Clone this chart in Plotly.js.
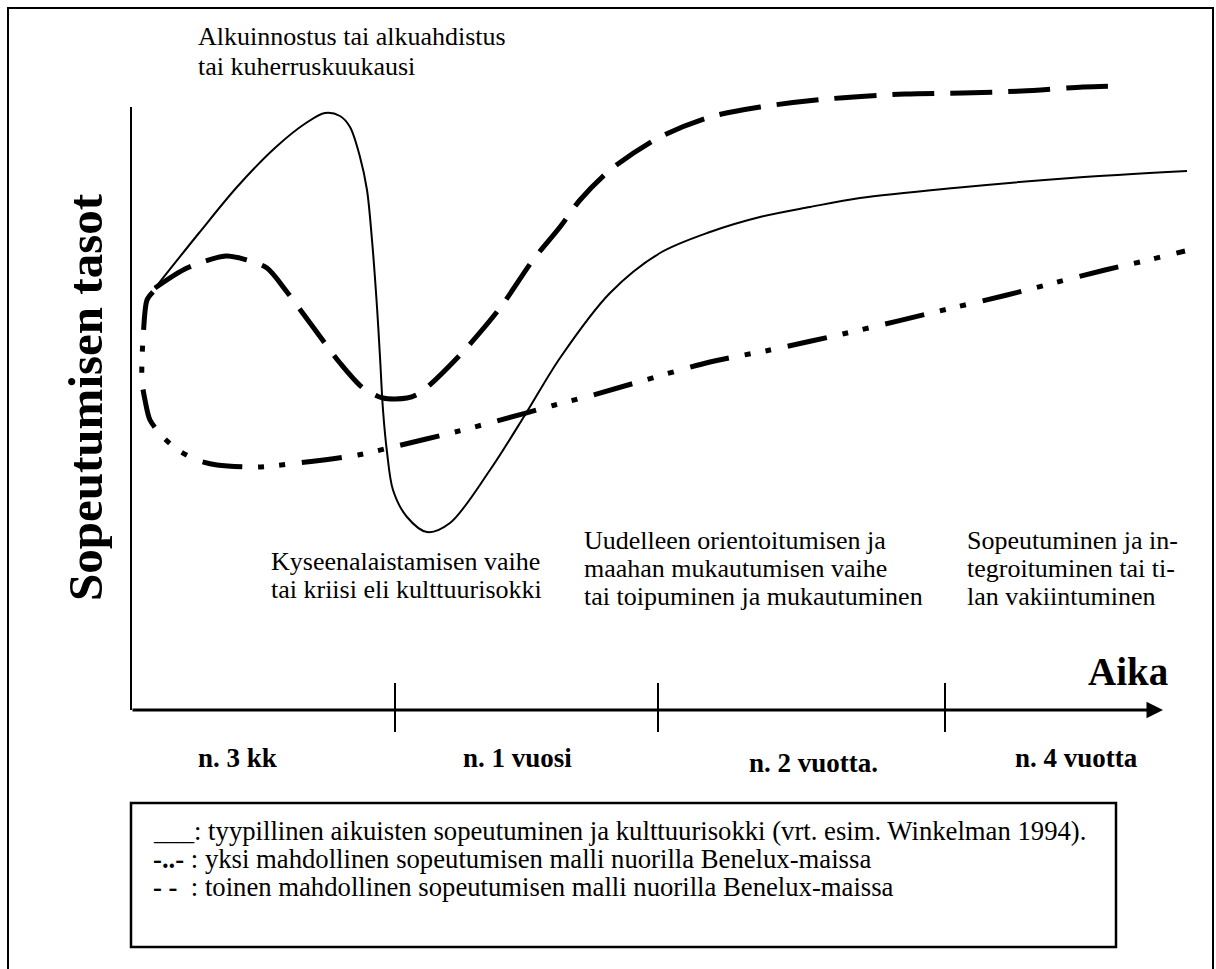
<!DOCTYPE html>
<html>
<head>
<meta charset="utf-8">
<script src="https://cdn.plot.ly/plotly-3.0.1.min.js"></script>
<style>
  html, body { margin: 0; padding: 0; background: #fff; }
  #chart { width: 1216px; height: 969px; }
</style>
</head>
<body>
<div id="chart"></div>
<script>
// ---- data (time units along x, adaptation level along y) ----
const solidX = [2.4, 6.8, 10.6, 14.5, 17.5, 19.4, 20.9, 21.9, 22.9, 23.6, 24.1, 24.6, 24.9, 25.2, 25.6, 26.2, 27.6, 29.6, 31.9, 35.9, 39.4, 42.9, 47.9, 52.9, 57.9, 62.9, 67.9, 72.9, 82.3, 94.0, 105.6];
const solidY = [42.2, 47.7, 52.3, 56.3, 58.7, 59.7, 59.4, 58.3, 55.3, 52.0, 47.0, 40.3, 35.3, 30.0, 25.8, 22.0, 19.3, 17.8, 18.7, 24.0, 29.5, 35.2, 41.7, 45.7, 47.8, 49.3, 50.3, 51.2, 52.2, 53.2, 53.9];

const dashX = [2.4, 5.6, 9.5, 11.6, 13.6, 15.6, 18.2, 20.9, 23.2, 25.2, 27.6, 28.9, 32.9, 36.9, 40.2, 42.9, 44.9, 47.9, 52.9, 57.9, 62.9, 69.6, 77.4, 83.2, 89.1, 95.2, 98.6];
const dashY = [42.2, 44.2, 45.4, 45.0, 44.2, 41.8, 38.3, 34.7, 32.2, 31.2, 31.2, 31.7, 35.5, 40.2, 45.0, 48.3, 51.0, 54.0, 57.3, 59.3, 60.3, 61.1, 61.6, 61.7, 61.9, 62.3, 62.4];

const dashDotX = [2.2, 1.6, 1.2, 1.1, 1.1, 1.4, 1.9, 3.2, 4.7, 6.6, 8.6, 12.6, 16.7, 22.7, 26.6, 32.4, 36.6, 42.4, 46.2, 57.9, 63.9, 71.6, 81.7, 87.6, 91.5, 97.4, 101.3, 105.4];
const dashDotY = [41.8, 41.0, 37.0, 35.0, 32.8, 31.0, 29.0, 27.3, 26.0, 25.0, 24.5, 24.3, 24.7, 25.5, 26.4, 27.8, 28.9, 30.5, 31.5, 34.8, 36.0, 37.7, 40.1, 41.5, 42.5, 44.0, 44.9, 45.9];

const phaseBoundaries = [26.4, 52.7, 81.4];
const phaseLabels = ["n. 3 kk", "n. 1 vuosi", "n. 2 vuotta.", "n. 4 vuotta"];

const phaseTexts = [
  ["Alkuinnostus tai alkuahdistus", "tai kuherruskuukausi"],
  ["Kyseenalaistamisen vaihe", "tai kriisi eli kulttuurisokki"],
  ["Uudelleen orientoitumisen ja", "maahan mukautumisen vaihe", "tai toipuminen ja mukautuminen"],
  ["Sopeutuminen ja in-", "tegroituminen tai ti-", "lan vakiintuminen"]
];

const legendLines = [
  "___: tyypillinen aikuisten sopeutuminen ja kulttuurisokki (vrt. esim. Winkelman 1994).",
  "<b>-..-</b> : yksi mahdollinen sopeutumisen malli nuorilla Benelux-maissa",
  "<b>- -</b>\u00A0\u00A0: toinen mahdollinen sopeutumisen malli nuorilla Benelux-maissa"
];

const xTitle = "Aika";
const yTitle = "Sopeutumisen tasot";

// ---- drawing ----
const FONT = "Liberation Serif";
const BLACK = "#000";

const traces = [
  { x: solidX, y: solidY, mode: "lines", line: { color: BLACK, width: 2, shape: "spline", smoothing: 0.9 }, hoverinfo: "skip" },
  { x: dashX, y: dashY, mode: "lines", line: { color: BLACK, width: 5, shape: "spline", smoothing: 0.8, dash: "42px,16px" }, hoverinfo: "skip" },
  { x: dashDotX, y: dashDotY, mode: "lines", line: { color: BLACK, width: 5, shape: "spline", smoothing: 0.8, dash: "40px,16px,6px,15px,6px,17px" }, hoverinfo: "skip" }
];

const shapes = [
  { type: "rect", xref: "x", yref: "y", x0: -12.3, x1: 108.2, y0: 70.2, y1: -30, line: { color: BLACK, width: 2 } },
  { type: "line", xref: "x", yref: "y", x0: 0, x1: 0, y0: 0, y1: 60.3, line: { color: BLACK, width: 2 } },
  { type: "rect", xref: "x", yref: "y", x0: 0, x1: 98.5, y0: -9.3, y1: -23.7, line: { color: BLACK, width: 2.5 } }
];
phaseBoundaries.forEach(b => shapes.push({ type: "line", xref: "x", yref: "y", x0: b, x1: b, y0: -2.2, y1: 2.7, line: { color: BLACK, width: 2 } }));

function txt(x, y, text, size, extra) {
  return Object.assign({ xref: "x", yref: "y", x: x, y: y, text: text, showarrow: false, xanchor: "left", yanchor: "middle", align: "left",
    borderpad: 0, font: { family: FONT, size: size, color: BLACK } }, extra || {});
}

const annotations = [
  { xref: "x", yref: "y", axref: "x", ayref: "y", x: 103.2, y: 0, ax: 0, ay: 0, text: "", showarrow: true, arrowhead: 2, arrowsize: 1.1, arrowwidth: 3, arrowcolor: BLACK, standoff: 0 },
  txt(99.7, 3.9, "<b>" + xTitle + "</b>", 39, { xanchor: "center" }),
  txt(-4.6, 31.3, "<b>" + yTitle + "</b>", 49, { xanchor: "center", textangle: -90 })
];

const blockLeft = [6.6, 13.9, 45.2, 83.5];
const blockLineY = [[67.4, 64.4], [14.9, 12.1], [17.0, 14.2, 11.4], [17.0, 14.2, 11.4]];
phaseTexts.forEach((lines, i) => lines.forEach((ln, j) => annotations.push(txt(blockLeft[i], blockLineY[i][j], ln, 26))));

const labelX = [10.6, 38.6, 68.2, 94.5];
const labelY = [-4.8, -4.8, -5.3, -4.8];
phaseLabels.forEach((t, i) => annotations.push(txt(labelX[i], labelY[i], "<b>" + t + "</b>", 27, { xanchor: "center" })));

const legendY = [-12.1, -14.9, -17.7];
legendLines.forEach((t, i) => annotations.push(txt(2.1, legendY[i], t, 26.7)));

const hidden = { visible: false, showgrid: false, zeroline: false, fixedrange: true };
const layout = {
  width: 1216, height: 969,
  margin: { l: 0, r: 0, t: 0, b: 0, pad: 0 },
  paper_bgcolor: "#fff", plot_bgcolor: "#fff",
  showlegend: false,
  xaxis: Object.assign({ range: [-13.1, 108.5] }, hidden),
  yaxis: Object.assign({ range: [-25.9, 71.0] }, hidden),
  shapes: shapes,
  annotations: annotations
};

Plotly.newPlot("chart", traces, layout, { displayModeBar: false, staticPlot: true });
</script>
</body>
</html>
